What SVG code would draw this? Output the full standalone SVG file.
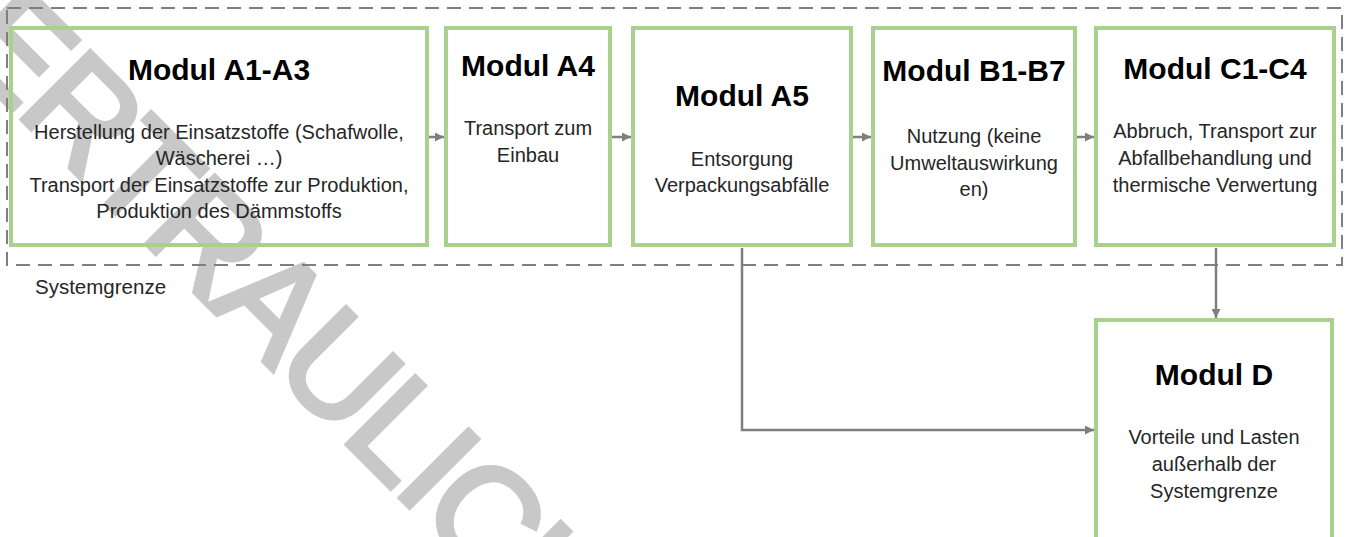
<svg xmlns="http://www.w3.org/2000/svg" width="1348" height="537" viewBox="0 0 1348 537">
  <defs>
    <marker id="arrow" viewBox="0 0 10 10" refX="10" refY="5" markerWidth="9" markerHeight="9" markerUnits="userSpaceOnUse" orient="auto">
      <path d="M0,0 L10,5 L0,10 z" fill="#7f7f7f"/>
    </marker>
  </defs>
  <style>
    .box { fill: none; stroke: #a9d18e; stroke-width: 4; }
    .title { font-family: "Liberation Sans", Arial, sans-serif; font-weight: bold; font-size: 30px; fill: #000; text-anchor: middle; }
    .body { font-family: "Liberation Sans", Arial, sans-serif; font-size: 20px; fill: #262626; text-anchor: middle; }
    .label { font-family: "Liberation Sans", Arial, sans-serif; font-size: 20.5px; fill: #262626; }
    .conn { fill: none; stroke: #7f7f7f; stroke-width: 2.5; }
    .boundary { fill: none; stroke: #7f7f7f; stroke-width: 2; stroke-dasharray: 14 8; }
    .wm { font-family: "Liberation Sans", Arial, sans-serif; font-size: 140px; fill: #c8c8c8; stroke: #c8c8c8; stroke-width: 5; letter-spacing: -4px; }
  </style>
  <rect width="1348" height="537" fill="#ffffff"/>

  <g id="watermark">
    <text class="wm" transform="rotate(45)" x="-90" y="69">VERTRAULICH</text>
  </g>

  <g id="systemgrenze">
    <rect class="boundary" x="7" y="8" width="1335" height="257"/>
    <text class="label" x="35" y="294">Systemgrenze</text>
  </g>

  <g id="connectors">
    <line class="conn" x1="429" y1="137" x2="444" y2="137" marker-end="url(#arrow)"/>
    <line class="conn" x1="612" y1="137" x2="631" y2="137" marker-end="url(#arrow)"/>
    <line class="conn" x1="853" y1="137" x2="871" y2="137" marker-end="url(#arrow)"/>
    <line class="conn" x1="1077" y1="137" x2="1094" y2="137" marker-end="url(#arrow)"/>
    <polyline class="conn" points="742,248 742,430 1094,430" marker-end="url(#arrow)"/>
    <line class="conn" x1="1216" y1="248" x2="1216" y2="318" marker-end="url(#arrow)"/>
  </g>

  <g id="modul-a1-a3">
    <rect class="box" x="11" y="28" width="416" height="217"/>
    <text class="title" x="219" y="80">Modul A1-A3</text>
    <text class="body" x="219" y="139">Herstellung der Einsatzstoffe (Schafwolle,</text>
    <text class="body" x="219" y="165">Wäscherei …)</text>
    <text class="body" x="219" y="192">Transport der Einsatzstoffe zur Produktion,</text>
    <text class="body" x="219" y="218">Produktion des Dämmstoffs</text>
  </g>

  <g id="modul-a4">
    <rect class="box" x="446" y="28" width="164" height="217"/>
    <text class="title" x="528" y="76">Modul A4</text>
    <text class="body" x="528" y="135">Transport zum</text>
    <text class="body" x="528" y="162">Einbau</text>
  </g>

  <g id="modul-a5">
    <rect class="box" x="633" y="28" width="218" height="217"/>
    <text class="title" x="742" y="106">Modul A5</text>
    <text class="body" x="742" y="166">Entsorgung</text>
    <text class="body" x="742" y="192">Verpackungsabfälle</text>
  </g>

  <g id="modul-b1-b7">
    <rect class="box" x="873" y="28" width="202" height="217"/>
    <text class="title" x="974" y="81">Modul B1-B7</text>
    <text class="body" x="974" y="143">Nutzung (keine</text>
    <text class="body" x="974" y="170">Umweltauswirkung</text>
    <text class="body" x="974" y="196">en)</text>
  </g>

  <g id="modul-c1-c4">
    <rect class="box" x="1096" y="28" width="238" height="217"/>
    <text class="title" x="1215" y="79">Modul C1-C4</text>
    <text class="body" x="1215" y="138">Abbruch, Transport zur</text>
    <text class="body" x="1215" y="165">Abfallbehandlung und</text>
    <text class="body" x="1215" y="192">thermische Verwertung</text>
  </g>

  <g id="modul-d">
    <rect class="box" x="1096" y="320" width="236" height="240"/>
    <text class="title" x="1214" y="385">Modul D</text>
    <text class="body" x="1214" y="444">Vorteile und Lasten</text>
    <text class="body" x="1214" y="471">außerhalb der</text>
    <text class="body" x="1214" y="498">Systemgrenze</text>
  </g>
</svg>
